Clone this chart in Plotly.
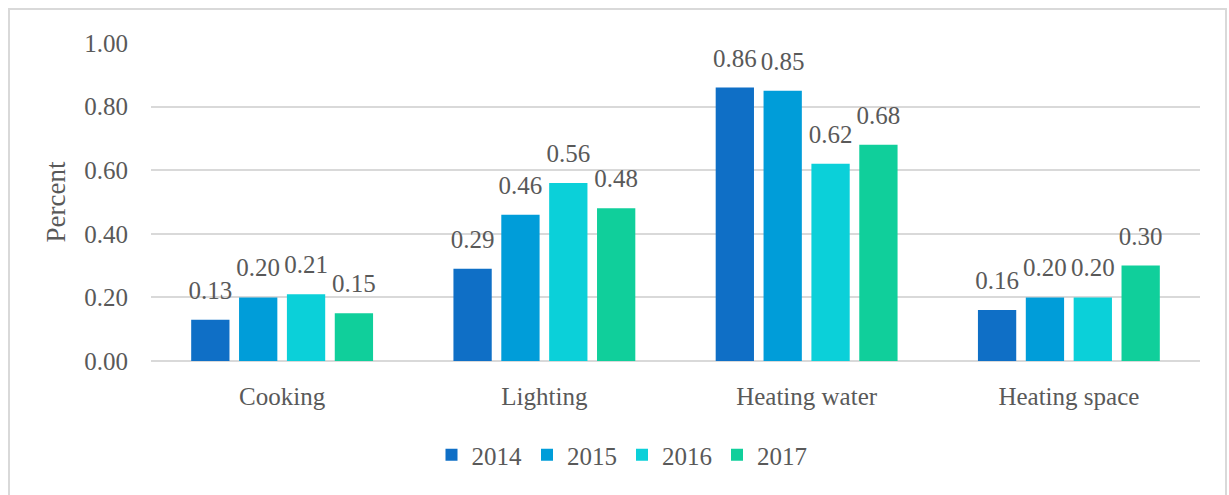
import plotly.graph_objects as go

categories = ["Cooking", "Lighting", "Heating water", "Heating space"]
years = ["2014", "2015", "2016", "2017"]
v2014 = [0.13, 0.29, 0.86, 0.16]
v2015 = [0.20, 0.46, 0.85, 0.20]
v2016 = [0.21, 0.56, 0.62, 0.20]
v2017 = [0.15, 0.48, 0.68, 0.30]
series = [v2014, v2015, v2016, v2017]
colors = ["#0F6FC6", "#009DD9", "#0BD0D9", "#10CF9B"]

FONT = "Liberation Serif"
GRAY = "#595959"

fig = go.Figure()
for name, vals, col in zip(years, series, colors):
    fig.add_trace(go.Bar(
        x=categories, y=vals, name=name, marker_color=col,
        marker_line_width=0, offsetgroup=name,
    ))
for name, vals in zip(years, series):
    fig.add_trace(go.Scatter(
        x=categories, y=vals, name=name, offsetgroup=name, showlegend=False,
        mode="markers+text", marker=dict(size=22, opacity=0),
        text=[f"{v:.2f}" for v in vals], textposition="top center",
        textfont=dict(family=FONT, size=25, color=GRAY),
        cliponaxis=False, hoverinfo="skip",
    ))

fig.update_layout(
    width=1229, height=495,
    paper_bgcolor="white", plot_bgcolor="white",
    margin=dict(l=151, r=29, t=43, b=134),
    barmode="group", bargap=0.27, bargroupgap=0.2,
    scattermode="group", scattergap=0.27,
    font=dict(family=FONT, color=GRAY, size=24),
    legend=dict(orientation="h", x=0.449, xanchor="center", y=-94/318, yanchor="middle",
                font=dict(family=FONT, size=25, color=GRAY), traceorder="normal",
                itemwidth=30),
    yaxis=dict(range=[0, 1.0], dtick=0.2, tickformat=".2f", showgrid=True,
               gridcolor="#D9D9D9", gridwidth=1.5, zeroline=True,
               zerolinecolor="#D9D9D9", zerolinewidth=1.5,
               tickfont=dict(family=FONT, size=25, color=GRAY), ticks="",
               ticklabelstandoff=22,
               title=dict(text="Percent", font=dict(family=FONT, size=27, color=GRAY), standoff=10)),
    xaxis=dict(showgrid=False, showline=False, ticks="", ticklabelstandoff=18,
               tickfont=dict(family=FONT, size=25, color=GRAY)),
    shapes=[dict(type="rect", xref="paper", yref="paper",
                 x0=-142/1049, x1=1075/1049, y0=-140/318, y1=1 + 34/318,
                 line=dict(color="#D9D9D9", width=2), fillcolor="rgba(0,0,0,0)", layer="below")],
)

fig.write_html("out.html", config={"displayModeBar": False},
               post_script="document.body.style.margin='0';document.body.style.overflow='hidden';")
